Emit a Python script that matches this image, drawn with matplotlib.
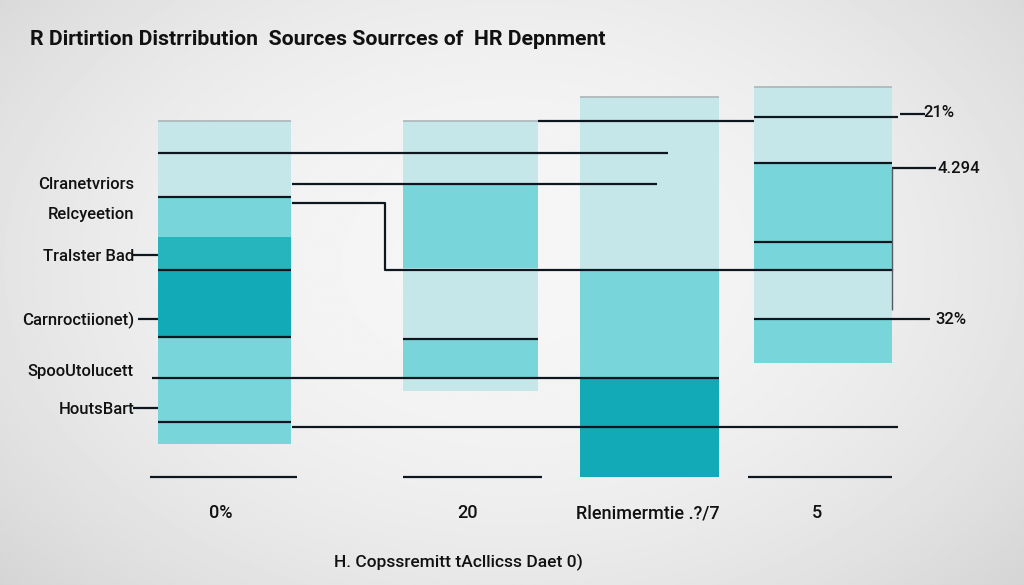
import numpy as np
import matplotlib.pyplot as plt

# texts
title = "R Dirtirtion Distrribution  Sources Sourrces of  HR Depnment"
xlabel_text = "H. Copssremitt tAcllicss Daet 0)"
bar_names = ["0%", "20", "Rlenimermtie .?/7", "5"]
left_labels = ["Clranetvriors", "Relcyeetion", "Tralster Bad",
               "Carnroctiionet)", "SpooUtolucett", "HoutsBart"]
left_label_y = [75.8, 67.9, 56.8, 40.0, 26.6, 16.6]
right_labels = ["21%", "4.294", "32%"]
right_label_y = [94.7, 80.0, 40.3]

# stacked (floating) bars, values bottom-up
bar_bottoms = [8.7, 22.6, 0.0, 30.0]
bar_segments = [
    [28.2, 17.6, 8.7, 10.5, 20.0],
    [3.4, 10.3, 18.7, 21.8, 16.8],
    [26.1, 28.4, 45.5],
    [11.6, 13.2, 7.1, 20.8, 20.0],
]
segment_shades = [
    ["med", "dark", "teal", "med", "light"],
    ["light", "med", "light", "med", "light"],
    ["dark", "med", "light"],
    ["med", "light", "med", "med", "light"],
]

# black rules: value, start, end
rule_y = [85.3, 77.1, 73.7, 54.5, 36.8, 26.1, 14.5, 13.2, 93.7, 94.7, 95.5,
          82.6, 81.3, 61.8, 41.6, 36.3, 0.0, 0.0, 0.0, 58.4, 41.6, 18.2]
rule_x0 = [158, 292, 158, 158, 158, 152, 158, 292, 538, 754, 900,
           754, 892, 754, 754, 403, 150, 403, 748, 133, 138, 133]
rule_x1 = [668, 657, 291, 291, 291, 719, 291, 898, 754, 898, 925,
           892, 936, 892, 930, 538, 297, 542, 892, 158, 158, 158]
step_x = [293, 385, 385, 892]
step_y = [72.1, 72.1, 54.5, 54.5]

# layout
W, H = 1024, 585
PX_PER_UNIT = 3.8
BASE_PX = 477
bar_centers = [224.5, 470.5, 649.5, 823.0]
bar_widths = [133, 135, 139, 138]
name_x = [221, 468, 648, 817]
shade = {"light": "#c6e7e9", "med": "#78d6da", "teal": "#27b5bd", "dark": "#11aab6"}
ink = "#0e1720"

fig = plt.figure(figsize=(W / 100, H / 100), dpi=100)

# soft grey vignette background
bg = fig.add_axes([0, 0, 1, 1])
yy, xx = np.mgrid[0:1:300j, 0:1:500j]
r = ((xx - 0.5) / 0.62) ** 2 + ((yy - 0.45) / 0.75) ** 2
grad = 0.965 - 0.11 * np.clip(r, 0, 1.6)
bg.imshow(grad, cmap="gray", vmin=0, vmax=1, aspect="auto", extent=[0, 1, 0, 1])
bg.axis("off")

ax = fig.add_axes([0, 0, 1, 1])
ax.set_facecolor("none")
ax.set_xlim(0, W)
ax.set_ylim((BASE_PX - H) / PX_PER_UNIT, BASE_PX / PX_PER_UNIT)
ax.axis("off")

for i, segs in enumerate(bar_segments):
    bottom = bar_bottoms[i]
    for h, s in zip(segs, segment_shades[i]):
        ax.bar(bar_centers[i], h, width=bar_widths[i], bottom=bottom,
               color=shade[s], linewidth=0, zorder=2)
        bottom += h
    ax.hlines(bottom, bar_centers[i] - bar_widths[i] / 2, bar_centers[i] + bar_widths[i] / 2,
              color="#aab5b7", lw=1.2, zorder=3)

ax.hlines(rule_y, rule_x0, rule_x1, color=ink, lw=1.6, zorder=4)
ax.plot(step_x, step_y, color=ink, lw=1.6, zorder=4)
ax.vlines(892, 43.9, 81.3, color="#555b60", lw=1.0, zorder=4)

font = ["Roboto", "DejaVu Sans"]
for lab, y in zip(left_labels, left_label_y):
    ax.text(134, y, lab, ha="right", va="baseline", fontsize=12, family=font,
            fontweight="medium", color="#111")
for lab, y, x in zip(right_labels, right_label_y, [923, 938, 935]):
    ax.text(x, y, lab, ha="left", va="baseline", fontsize=12, family=font,
            fontweight="medium", color="#111")
for lab, x in zip(bar_names, name_x):
    ax.text(x, -10.9, lab, ha="center", va="baseline", fontsize=13, family=font,
            fontweight="medium", color="#111")

t_title = ax.text(30, 113.7, title, ha="left", va="baseline", fontsize=14,
                  fontweight="bold", family=font, color="#111")
t_xlab = ax.text(458, -23.7, xlabel_text, ha="center", va="baseline", fontsize=14,
                 family=font, fontweight="medium", color="#111")

# squeeze the two long strings to the widths seen in the picture
fig.canvas.draw()
rend = fig.canvas.get_renderer()
for t, target in [(t_title, 577), (t_xlab, 250)]:
    w = t.get_window_extent(rend).width
    t.set_fontsize(t.get_fontsize() * target / w)

fig.savefig("out.png", dpi=100)
